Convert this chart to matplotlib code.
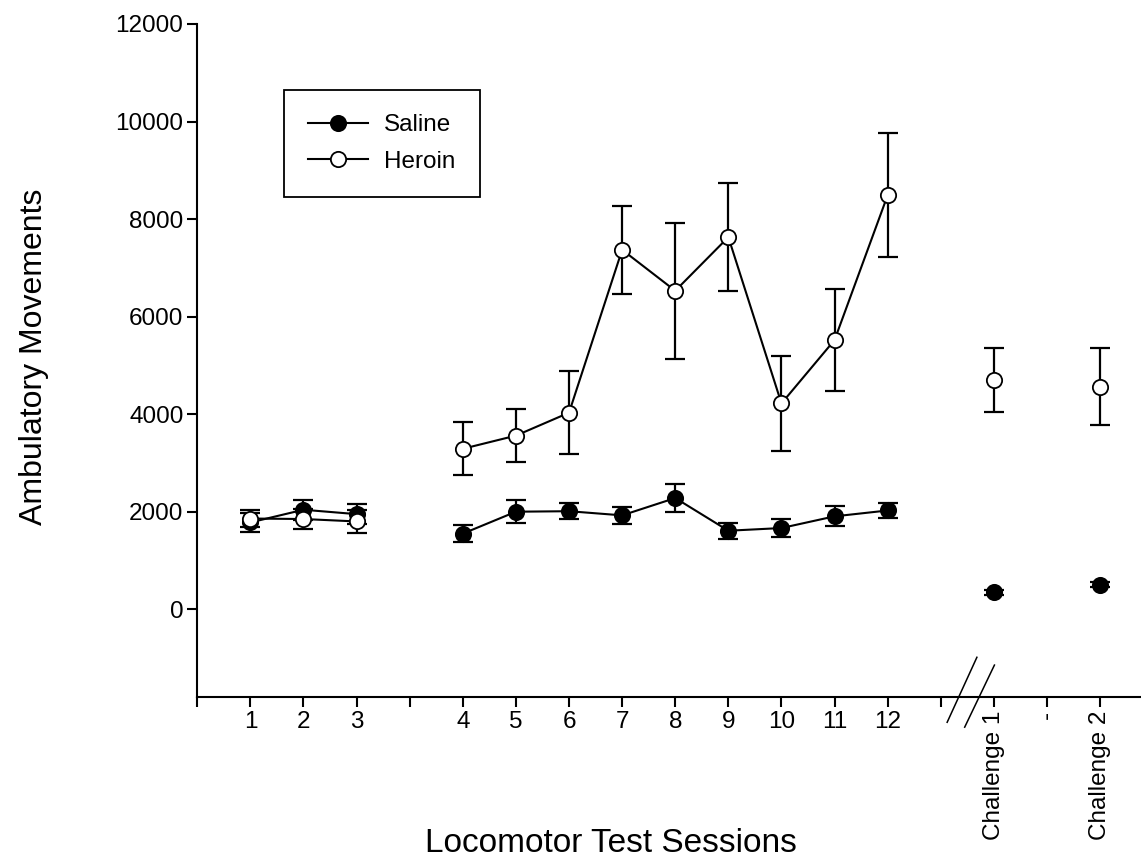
import numpy as np
import matplotlib.pyplot as plt

plt.rcParams['font.family'] = ['Liberation Sans', 'DejaVu Sans']

sessions = ['1', '2', '3', '4', '5', '6', '7', '8', '9', '10', '11', '12',
            'Challenge 1', 'Challenge 2']
saline_mean = [1780, 2040, 1950, 1550, 2000, 2010, 1925, 2280, 1610, 1665, 1905, 2025, 345, 505]
saline_sem = [190, 200, 200, 170, 230, 165, 175, 290, 160, 185, 205, 160, 50, 50]
heroin_mean = [1860, 1850, 1800, 3290, 3560, 4030, 7370, 6530, 7630, 4220, 5520, 8490, 4700, 4560]
heroin_sem = [180, 200, 230, 540, 550, 850, 900, 1390, 1110, 970, 1040, 1275, 665, 790]

# sessions come in blocks, one empty slot between blocks
block_sizes = [3, 9, 1, 1]
gap_labels = ['', '', '-']

x_pos = []
tick_pos, tick_lab = [0], ['']
cur = 0
for b, n in enumerate(block_sizes):
    if b > 0:
        cur += 1
        tick_pos.append(cur)
        tick_lab.append(gap_labels[b - 1])
    for i in range(n):
        cur += 1
        x_pos.append(cur)
        tick_pos.append(cur)
        tick_lab.append(sessions[len(x_pos) - 1])

fig = plt.figure(figsize=(11.41, 8.6), dpi=100)
ax = fig.add_axes([0.1729, 0.1895, 0.8271, 0.7826])

styles = {
    'Saline': dict(mean=saline_mean, sem=saline_sem, face='black', z=2),
    'Heroin': dict(mean=heroin_mean, sem=heroin_sem, face='white', z=4),
}

handles = []
for name, s in styles.items():
    ax.errorbar(x_pos, s['mean'], yerr=s['sem'], fmt='none', ecolor='black',
                elinewidth=1.6, capsize=7, capthick=1.6, zorder=s['z'])
    start = 0
    first = None
    for n in block_sizes:
        xs = x_pos[start:start + n]
        ys = s['mean'][start:start + n]
        ln, = ax.plot(xs, ys, color='black', lw=1.5, marker='o', ms=11,
                      mfc=s['face'], mec='black', mew=1.3, zorder=s['z'] + 1)
        if first is None:
            first = ln
        start += n
    handles.append(first)

ax.set_xlim(0, 17.77)
ax.set_ylim(-1800, 12000)
ax.set_yticks(np.arange(0, 12001, 2000))
ax.set_xticks(tick_pos)
ax.set_xticklabels(tick_lab)
for lab in ax.get_xticklabels():
    if lab.get_text().startswith('Challenge') or lab.get_text() == '-':
        lab.set_rotation(90)

for side in ['top', 'right']:
    ax.spines[side].set_visible(False)
for side in ['left', 'bottom']:
    ax.spines[side].set_linewidth(1.5)
ax.tick_params(direction='out', length=7, width=1.5, labelsize=17.5, pad=3)

# axis break marks between session 12 and the challenges
for dx in [0, 0.33]:
    ax.plot([14.12 + dx, 14.68 + dx], [-2318 - 100 * dx / 0.33, -985 - 160 * dx / 0.33],
            color='black', lw=1.1, clip_on=False)

ax.set_ylabel('Ambulatory Movements', fontsize=23, va='center')
ax.yaxis.set_label_coords(-0.173, 0.505)
ax.set_xlabel('Locomotor Test Sessions', fontsize=24, va='center')
ax.xaxis.set_label_coords(0.438, -0.217)

leg = ax.legend(handles, ['Saline', 'Heroin'], loc='upper left',
                bbox_to_anchor=(284 / 1141, 1 - 90 / 860), bbox_transform=fig.transFigure,
                borderaxespad=0, fancybox=False, framealpha=1, edgecolor='black',
                fontsize=17.5, handlelength=2.45, handletextpad=0.66,
                borderpad=1.0, labelspacing=0.6)
leg.get_frame().set_linewidth(1.3)

fig.savefig('out.png', dpi=100)
